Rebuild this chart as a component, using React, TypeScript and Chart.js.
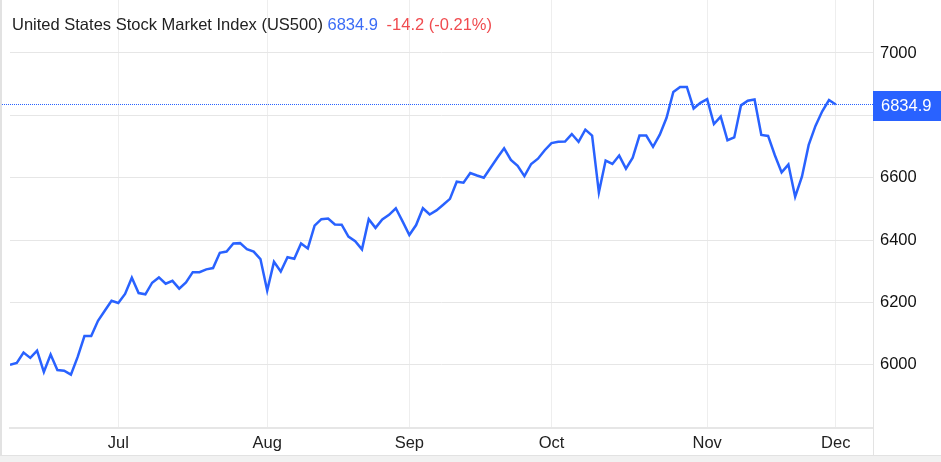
import React, { useEffect, useRef } from 'react';
import { Chart, registerables } from 'chart.js';

Chart.register(...registerables);

const FONT = 'Arial, "Liberation Sans", Helvetica, sans-serif';
const LINE_COLOR = '#2962ff';

const indexName = 'United States Stock Market Index (US500)';
const lastPrice = 6834.9;
const priceChange = -14.2;
const priceChangePct = -0.21;

// trading days (2025, MM-DD)
const tradingDates = [
  '06-06', '06-09', '06-10', '06-11', '06-12', '06-13', '06-16', '06-17', '06-18', '06-20', '06-23', '06-24', '06-25', '06-26', '06-27', '06-30',
  '07-01', '07-02', '07-03', '07-07', '07-08', '07-09', '07-10', '07-11', '07-14', '07-15', '07-16', '07-17', '07-18', '07-21', '07-22', '07-23', '07-24', '07-25', '07-28', '07-29', '07-30', '07-31',
  '08-01', '08-04', '08-05', '08-06', '08-07', '08-08', '08-11', '08-12', '08-13', '08-14', '08-15', '08-18', '08-19', '08-20', '08-21', '08-22', '08-25', '08-26', '08-27', '08-28', '08-29',
  '09-02', '09-03', '09-04', '09-05', '09-08', '09-09', '09-10', '09-11', '09-12', '09-15', '09-16', '09-17', '09-18', '09-19', '09-22', '09-23', '09-24', '09-25', '09-26', '09-29', '09-30',
  '10-01', '10-02', '10-03', '10-06', '10-07', '10-08', '10-09', '10-10', '10-13', '10-14', '10-15', '10-16', '10-17', '10-20', '10-21', '10-22', '10-23', '10-24', '10-27', '10-28', '10-29', '10-30', '10-31',
  '11-03', '11-04', '11-05', '11-06', '11-07', '11-10', '11-11', '11-12', '11-13', '11-14', '11-17', '11-18', '11-19', '11-20', '11-21', '11-24', '11-25', '11-26', '11-28',
  '12-01',
];

const closeValues = [
  6000, 6006, 6039, 6022, 6045, 5977, 6033, 5983, 5981, 5968, 6025, 6092, 6092, 6141, 6173, 6205,
  6198, 6227, 6279, 6230, 6226, 6263, 6280, 6260, 6269, 6244, 6264, 6297, 6297, 6306, 6310, 6359, 6363, 6389, 6390, 6371, 6363, 6339,
  6238, 6330, 6299, 6345, 6340, 6389, 6373, 6446, 6467, 6469, 6450, 6449, 6411, 6396, 6370, 6467, 6439, 6466, 6481, 6502, 6460,
  6416, 6448, 6502, 6482, 6495, 6513, 6532, 6587, 6584, 6615, 6607, 6600, 6632, 6664, 6694, 6657, 6638, 6605, 6644, 6661, 6688,
  6711, 6715, 6716, 6740, 6715, 6754, 6735, 6553, 6655, 6644, 6671, 6629, 6664, 6735, 6735, 6699, 6738, 6792, 6875, 6891, 6891, 6822, 6840,
  6852, 6772, 6796, 6720, 6729, 6832, 6847, 6851, 6737, 6734, 6672, 6617, 6642, 6539, 6603, 6705, 6766, 6813, 6849,
  6834.9,
];

const monthLabels = ['Jul', 'Aug', 'Sep', 'Oct', 'Nov', 'Dec'];
const yTickValues = [6000, 6200, 6400, 6600, 6800, 7000];

const monthStartIndices: number[] = [];
for (let i = 1; i < tradingDates.length; i++) {
  if (tradingDates[i].slice(0, 2) !== tradingDates[i - 1].slice(0, 2)) monthStartIndices.push(i);
}

const overlayPlugin = {
  id: 'overlay',
  afterDraw(chart: any) {
    const { ctx, chartArea, scales } = chart;
    const y = Math.round(scales.y.getPixelForValue(lastPrice)) + 0.5;
    ctx.save();
    // right border
    ctx.strokeStyle = '#e3e3e3';
    ctx.lineWidth = 1;
    ctx.beginPath();
    ctx.moveTo(Math.round(chartArea.right) + 0.5, 0);
    ctx.lineTo(Math.round(chartArea.right) + 0.5, 455);
    ctx.stroke();
    // dotted price line
    ctx.strokeStyle = LINE_COLOR;
    ctx.setLineDash([1, 1]);
    ctx.beginPath();
    ctx.moveTo(0, y);
    ctx.lineTo(chartArea.right, y);
    ctx.stroke();
    ctx.setLineDash([]);
    // price box
    ctx.fillStyle = LINE_COLOR;
    ctx.fillRect(chartArea.right, y - 13.5, chart.width - chartArea.right, 30);
    ctx.fillStyle = '#ffffff';
    ctx.font = '16.5px ' + FONT;
    ctx.textBaseline = 'middle';
    ctx.textAlign = 'left';
    ctx.fillText(lastPrice.toFixed(1), chartArea.right + 8, y + 2);
    ctx.restore();
  },
};

export default function App() {
  const canvasRef = useRef<HTMLCanvasElement | null>(null);

  useEffect(() => {
    document.body.style.margin = '0';
    const canvas = canvasRef.current;
    if (!canvas) return;
    const chart = new Chart(canvas, {
      type: 'line',
      data: {
        datasets: [
          {
            data: closeValues.map((v, i) => ({ x: i, y: v })),
            borderColor: LINE_COLOR,
            borderWidth: 2.5,
            pointRadius: 0,
            tension: 0,
            fill: false,
          },
        ],
      },
      options: {
        animation: false,
        responsive: false,
        maintainAspectRatio: false,
        layout: { padding: { left: 10, top: 0, right: 0, bottom: 0 } },
        plugins: {
          legend: { display: false },
          tooltip: { enabled: false },
          title: { display: false },
        },
        scales: {
          x: {
            type: 'linear',
            min: 0,
            max: 127.5,
            afterBuildTicks: (s: any) => {
              s.ticks = monthStartIndices.map((v) => ({ value: v }));
            },
            afterFit: (s: any) => {
              s.height = 34;
              s.paddingLeft = 0;
              s.paddingRight = 0;
            },
            grid: { color: '#eeeeee', lineWidth: 1, drawTicks: false },
            border: { display: true, color: '#e6e6e6', width: 2 },
            ticks: {
              callback: (_v: any, i: number) => monthLabels[i],
              padding: 6,
              color: '#222222',
              font: { family: FONT, size: 16.5 },
              maxRotation: 0,
              autoSkip: false,
            },
          },
          y: {
            position: 'right',
            min: 5797,
            max: 7170,
            afterBuildTicks: (s: any) => {
              s.ticks = yTickValues.map((v) => ({ value: v }));
            },
            afterFit: (s: any) => {
              s.width = 68;
              s.paddingTop = 0;
              s.paddingBottom = 0;
            },
            grid: { color: '#e6e6e6', lineWidth: 1, drawTicks: false },
            border: { display: false },
            ticks: {
              padding: 7,
              color: '#111111',
              font: { family: FONT, size: 16.5 },
              // the label next to the last-price box is hidden by it
              callback: (v: any) => (Math.abs(v - lastPrice) < 60 ? '' : String(v)),
            },
          },
        },
      },
      plugins: [overlayPlugin],
    });
    return () => chart.destroy();
  }, []);

  return (
    <div style={{ position: 'relative', width: 941, height: 462, background: '#ffffff', overflow: 'hidden' }}>
      <canvas ref={canvasRef} width={941} height={462} style={{ display: 'block' }} />
      <div
        style={{
          position: 'absolute',
          left: 12,
          top: 15,
          fontFamily: FONT,
          fontSize: 16.5,
          lineHeight: '18px',
          color: '#222222',
          whiteSpace: 'nowrap',
        }}
      >
        {indexName}{' '}
        <span style={{ color: '#3b6cf6' }}>{lastPrice.toFixed(1)}</span>{' '}
        <span style={{ color: '#f04b4f', marginLeft: 4 }}>
          {priceChange.toFixed(1)} ({priceChangePct.toFixed(2)}%)
        </span>
      </div>
      <div style={{ position: 'absolute', left: 0, top: 0, width: 2, height: 462, background: '#e2e2e2' }} />
      <div
        style={{
          position: 'absolute',
          left: 0,
          top: 455,
          width: 941,
          height: 7,
          background: '#f1f1f1',
          borderTop: '1px solid #e2e2e2',
        }}
      />
    </div>
  );
}
